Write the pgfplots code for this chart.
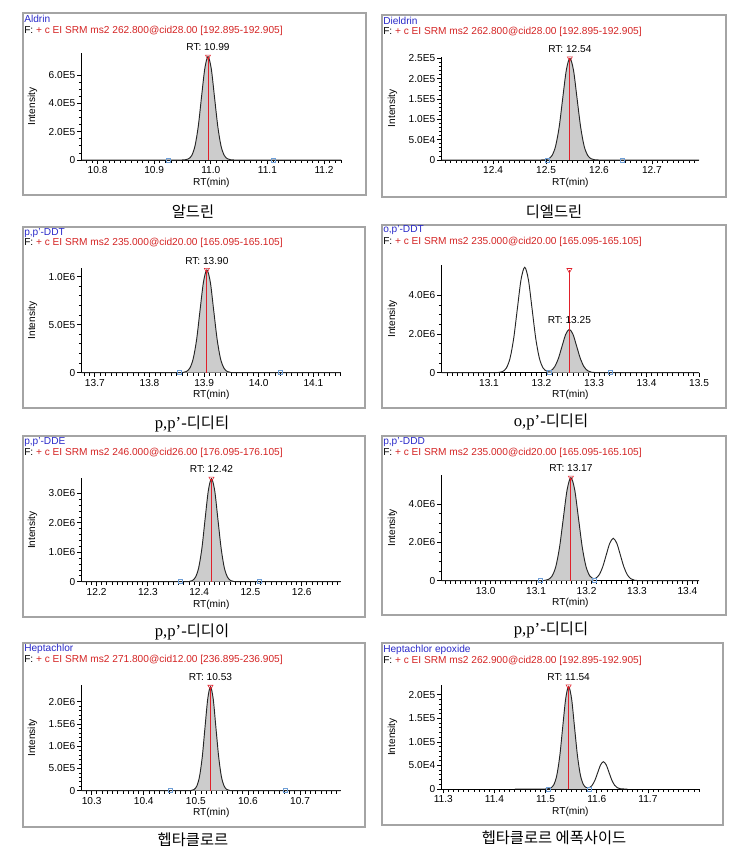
\documentclass[border=0pt]{standalone}
\usepackage{fontspec}
\setmainfont{Liberation Sans}
\newfontfamily\cjk{Noto Sans CJK KR}
\newfontfamily\serif{Liberation Serif}
\usepackage{pgfplots}
\usepackage{pgfplotstable}
\pgfplotsset{compat=1.18}
\definecolor{rtred}{HTML}{E0202A}
\definecolor{hdrblue}{HTML}{2828C8}
\definecolor{hdrred}{HTML}{D42424}
\definecolor{bndblue}{HTML}{6E9ED6}
\definecolor{framegray}{HTML}{A4A4A4}
\newcommand\sm{\fontsize{7.6}{9}\selectfont}
\newcommand\capt{\cjk\fontsize{11.5}{13}\selectfont}
\newcommand\capl{\serif\fontsize{12.5}{13}\selectfont}

\pgfplotsset{
  chrom/.style={
    scale only axis, anchor=south west,
    axis lines=left, axis line style={-, black, line width=0.75pt},
    ymin=0, clip=false, scaled ticks=false,
    tick style={black, line width=0.6pt},
    major tick length=3.2pt, minor tick length=2.2pt, tick align=outside,
    ticklabel style={font=\sm, inner sep=1.5pt},
    xlabel={RT(min)}, ylabel={Intensity},
    every axis x label/.style={at={(axis description cs:0.5,0)}, anchor=center, yshift=-17pt, font=\sm},
    every axis y label/.style={at={(axis description cs:0,0.5)}, xshift=-37pt, rotate=90, anchor=center, font=\sm},
  },
  fillpk/.style={draw=none, fill=gray!40, smooth},
  trace/.style={black!85, line width=0.7pt, smooth, mark=none},
  rtline/.style={rtred, line width=0.7pt, mark=none},
  apex/.style={only marks, mark=triangle, mark size=2.2pt, mark options={rotate=180, draw=rtred, fill=rtred!15}},
  bound/.style={only marks, mark=square, mark size=1.5pt, mark options={draw=bndblue, fill=bndblue!25}},
}

% Aldrin
\pgfplotstableread{
x y
10.772 0
10.94 0
10.949 220
10.9548 1600
10.9605 8100
10.9663 32000
10.972 98800
10.9778 237000
10.9835 443000
10.9893 644000
10.995 730000
11.0008 644000
11.0065 443000
11.0123 237000
11.018 98800
11.0238 32000
11.0295 8100
11.0353 1600
11.041 220
11.05 0
11.23 0
}\tAldrin
% Dieldrin
\pgfplotstableread{
x y
12.303 0
12.48 0
12.491 75
12.4978 550
12.5045 2780
12.5113 11000
12.518 33800
12.5248 81200
12.5315 152000
12.5383 221000
12.545 250000
12.5518 221000
12.5585 152000
12.5653 81200
12.572 33800
12.5788 11000
12.5855 2780
12.5923 550
12.599 75
12.61 0
12.789 0
}\tDieldrin
% p,p'-DDT
\pgfplotstableread{
x y
13.676 0
13.845 0
13.855 320
13.8613 2350
13.8675 11900
13.8738 47000
13.88 145000
13.8863 347000
13.8925 649000
13.8988 944000
13.905 1070000
13.9113 944000
13.9175 649000
13.9238 347000
13.93 145000
13.9363 47000
13.9425 11900
13.9488 2350
13.955 320
13.965 0
14.15 0
}\tppDDT
% o,p'-DDT
\pgfplotstableread{
x y
13.01 0
13.105 0
13.112 1640
13.119 12000
13.126 60500
13.133 239000
13.14 737000
13.147 1770000
13.154 3305000
13.161 4810000
13.168 5450000
13.175 4810000
13.182 3305000
13.189 1770000
13.196 738000
13.203 243000
13.21 80500
13.218 108000
13.225 304000
13.232 727000
13.239 1359000
13.246 1977000
13.253 2240000
13.26 1977000
13.267 1359000
13.274 727000
13.281 303000
13.288 98300
13.295 24900
13.302 4930
13.309 670
13.316 0
13.5 0
}\topDDT
% p,p'-DDE
\pgfplotstableread{
x y
12.171 0
12.364 0
12.374 1050
12.3803 7700
12.3865 38900
12.3928 154000
12.399 474000
12.4053 1136000
12.4115 2123000
12.4178 3089000
12.424 3500000
12.4303 3089000
12.4365 2123000
12.4428 1136000
12.449 474000
12.4553 154000
12.4615 38900
12.4678 7700
12.474 1050
12.484 0
12.676 0
}\tppDDE
% p,p'-DDD
\pgfplotstableread{
x y
12.913 0
13.1 0
13.109 1610
13.1165 11800
13.124 59700
13.1315 236000
13.139 728000
13.1465 1747000
13.154 3263000
13.1615 4748000
13.169 5380000
13.1765 4748000
13.184 3263000
13.1915 1747000
13.199 729000
13.2065 245000
13.214 105000
13.218 123000
13.225 304000
13.232 718000
13.239 1340000
13.246 1950000
13.253 2210000
13.26 1950000
13.267 1340000
13.274 718000
13.281 299000
13.288 97000
13.295 24500
13.302 4860
13.309 660
13.316 0
13.423 0
}\tppDDD
% Heptachlor
\pgfplotstableread{
x y
10.281 0
10.476 0
10.486 700
10.4913 5150
10.4965 26000
10.5018 103000
10.507 317000
10.5123 760000
10.5175 1419000
10.5228 2065000
10.528 2340000
10.5333 2065000
10.5385 1419000
10.5438 760000
10.549 317000
10.5543 103000
10.5595 26000
10.5648 5150
10.57 700
10.58 0
10.778 0
}\tHepta
% Heptachlor epoxide
\pgfplotstableread{
x y
11.44 0
11.49 0
11.499 65
11.5048 480
11.5105 2420
11.5163 9570
11.522 29500
11.5278 70800
11.5335 132000
11.5393 192000
11.545 218000
11.5508 192000
11.5565 132000
11.5623 70800
11.568 29600
11.5738 9670
11.5795 3050
11.5855 2960
11.591 7920
11.5965 18800
11.602 35200
11.6075 51200
11.613 58000
11.6185 51200
11.624 35200
11.6295 18800
11.635 7850
11.6405 2550
11.646 640
11.651 130
11.66 0
}\tHeptEp

\begin{document}
\begin{tikzpicture}
\begin{scope}[x=0.75pt,y=-0.75pt]
\path (0,0) rectangle (748,867);
\foreach \a/\b/\c/\d in {23/13/366/195, 382/15/726/197, 23/227/365/408, 382/225/726/408,
  23/436/365/617, 382/436/726/615, 23/643/365/827, 382/643/723/825}
  \draw[framegray, line width=1.2pt] (\a,\b) rectangle (\c,\d);
\tikzset{nm/.style={anchor=west, inner sep=0pt, text=hdrblue, font=\sm},
         ft/.style={anchor=west, inner sep=0pt, font=\sm}}
\node[nm] at (24,19) {Aldrin};
\node[ft] at (24,31) {F: \textcolor{hdrred}{+ c EI SRM ms2 262.800@cid28.00 [192.895-192.905]}};
\node[nm] at (383,20.7) {Dieldrin};
\node[ft] at (383,31.7) {F: \textcolor{hdrred}{+ c EI SRM ms2 262.800@cid28.00 [192.895-192.905]}};
\node[nm] at (24,232.7) {p,p'-DDT};
\node[ft] at (24,243.3) {F: \textcolor{hdrred}{+ c EI SRM ms2 235.000@cid20.00 [165.095-165.105]}};
\node[nm] at (383,230) {o,p'-DDT};
\node[ft] at (383,241.7) {F: \textcolor{hdrred}{+ c EI SRM ms2 235.000@cid20.00 [165.095-165.105]}};
\node[nm] at (24,442.3) {p,p'-DDE};
\node[ft] at (24,452.7) {F: \textcolor{hdrred}{+ c EI SRM ms2 246.000@cid26.00 [176.095-176.105]}};
\node[nm] at (383,441.7) {p,p'-DDD};
\node[ft] at (383,452.7) {F: \textcolor{hdrred}{+ c EI SRM ms2 235.000@cid20.00 [165.095-165.105]}};
\node[nm] at (24,649) {Heptachlor};
\node[ft] at (24,660) {F: \textcolor{hdrred}{+ c EI SRM ms2 271.800@cid12.00 [236.895-236.905]}};
\node[nm] at (383,650) {Heptachlor epoxide};
\node[ft] at (383,661) {F: \textcolor{hdrred}{+ c EI SRM ms2 262.900@cid28.00 [192.895-192.905]}};
% captions
\node[font=\capt] at (193,212) {알드린};
\node[font=\capt] at (554,212) {디엘드린};
\node at (192,424) {{\capl p,p’-}{\capt 디디티}};
\node at (551,422) {{\capl o,p’-}{\capt 디디티}};
\node at (192,632) {{\capl p,p’-}{\capt 디디이}};
\node at (551,630) {{\capl p,p’-}{\capt 디디디}};
\node[font=\capt] at (193,840) {헵타클로르};
\node[font=\capt] at (554,838) {헵타클로르 에폭사이드};
\end{scope}

% Aldrin
\begin{axis}[chrom, at={(61.3pt,-120pt)}, width=194.5pt, height=80pt,
  xmin=10.772, xmax=11.23, ymax=7.53e5,
  xtick={10.8,10.9,11.0,11.1,11.2}, xticklabels={10.8,10.9,11.0,11.1,11.2},
  minor xtick={10.78,10.79,...,11.23},
  ytick={0,2e5,4e5,6e5}, yticklabels={0,2.0E5,4.0E5,6.0E5}, minor y tick num=3]
\addplot[fillpk] table {\tAldrin} \closedcycle;
\addplot[trace] table {\tAldrin};
\addplot[rtline] coordinates {(10.995,0)(10.995,7.3e5)};
\addplot[apex] coordinates {(10.995,7.3e5)};
\addplot[bound] coordinates {(10.925,0)(11.11,0)};
\node[font=\sm, yshift=7pt] at (axis cs:10.995,7.3e5) {RT: 10.99};
\end{axis}

% Dieldrin
\begin{axis}[chrom, at={(331.3pt,-120pt)}, width=193pt, height=77.5pt,
  xmin=12.303, xmax=12.789, ymax=2.54e5,
  xtick={12.3,12.4,12.5,12.6,12.7}, xticklabels={12.3,12.4,12.5,12.6,12.7},
  minor xtick={12.31,12.32,...,12.785},
  ytick={0,5e4,1e5,1.5e5,2e5,2.5e5}, yticklabels={0,5.0E4,1.0E5,1.5E5,2.0E5,2.5E5}, minor y tick num=4]
\addplot[fillpk] table {\tDieldrin} \closedcycle;
\addplot[trace] table {\tDieldrin};
\addplot[rtline] coordinates {(12.545,0)(12.545,2.5e5)};
\addplot[apex] coordinates {(12.545,2.5e5)};
\addplot[bound] coordinates {(12.503,0)(12.643,0)};
\node[font=\sm, yshift=7pt] at (axis cs:12.545,2.5e5) {RT: 12.54};
\end{axis}

% p,p'-DDT
\begin{axis}[chrom, at={(61.3pt,-279.5pt)}, width=194.25pt, height=78.3pt,
  xmin=13.676, xmax=14.15, ymax=1.087e6,
  xtick={13.7,13.8,13.9,14.0,14.1}, xticklabels={13.7,13.8,13.9,14.0,14.1},
  minor xtick={13.68,13.69,...,14.145},
  ytick={0,5e5,1e6}, yticklabels={0,5.0E5,1.0E6}, minor y tick num=4]
\addplot[fillpk] table {\tppDDT} \closedcycle;
\addplot[trace] table {\tppDDT};
\addplot[rtline] coordinates {(13.905,0)(13.905,1.07e6)};
\addplot[apex] coordinates {(13.905,1.07e6)};
\addplot[bound] coordinates {(13.855,0)(14.04,0)};
\node[font=\sm, yshift=7pt] at (axis cs:13.905,1.07e6) {RT: 13.90};
\end{axis}

% o,p'-DDT
\begin{axis}[chrom, at={(331.3pt,-279.5pt)}, width=193pt, height=80.8pt,
  xmin=13.01, xmax=13.5, ymax=5.57e6,
  xtick={13.1,13.2,13.3,13.4,13.5}, xticklabels={13.1,13.2,13.3,13.4,13.5},
  minor xtick={13.02,13.03,...,13.495},
  ytick={0,2e6,4e6}, yticklabels={0,2.0E6,4.0E6}, minor y tick num=3]
\addplot[fillpk, restrict x to domain=13.209:13.303] table {\topDDT} \closedcycle;
\addplot[trace] table {\topDDT};
\addplot[rtline] coordinates {(13.253,0)(13.253,5.31e6)};
\addplot[apex] coordinates {(13.253,5.31e6)};
\addplot[bound] coordinates {(13.214,0)(13.33,0)};
\node[font=\sm, yshift=7pt] at (axis cs:13.253,2.24e6) {RT: 13.25};
\end{axis}

% p,p'-DDE
\begin{axis}[chrom, at={(61.3pt,-436.3pt)}, width=194.25pt, height=77.55pt,
  xmin=12.171, xmax=12.676, ymax=3.51e6,
  xtick={12.2,12.3,12.4,12.5,12.6}, xticklabels={12.2,12.3,12.4,12.5,12.6},
  minor xtick={12.18,12.19,...,12.675},
  ytick={0,1e6,2e6,3e6}, yticklabels={0,1.0E6,2.0E6,3.0E6}, minor y tick num=4]
\addplot[fillpk] table {\tppDDE} \closedcycle;
\addplot[trace] table {\tppDDE};
\addplot[rtline] coordinates {(12.424,0)(12.424,3.5e6)};
\addplot[apex] coordinates {(12.424,3.5e6)};
\addplot[bound] coordinates {(12.364,0)(12.517,0)};
\node[font=\sm, yshift=7pt] at (axis cs:12.424,3.5e6) {RT: 12.42};
\end{axis}

% p,p'-DDD
\begin{axis}[chrom, at={(331.3pt,-435.5pt)}, width=193pt, height=79.3pt,
  xmin=12.913, xmax=13.423, ymax=5.52e6,
  xtick={13.0,13.1,13.2,13.3,13.4}, xticklabels={13.0,13.1,13.2,13.3,13.4},
  minor xtick={12.92,12.93,...,13.42},
  ytick={0,2e6,4e6}, yticklabels={0,2.0E6,4.0E6}, minor y tick num=3]
\addplot[fillpk, restrict x to domain=13.108:13.2145] table {\tppDDD} \closedcycle;
\addplot[trace] table {\tppDDD};
\addplot[rtline] coordinates {(13.169,0)(13.169,5.38e6)};
\addplot[apex] coordinates {(13.169,5.38e6)};
\addplot[bound] coordinates {(13.109,0)(13.215,0)};
\node[font=\sm, yshift=7pt] at (axis cs:13.169,5.38e6) {RT: 13.17};
\end{axis}

% Heptachlor
\begin{axis}[chrom, at={(61.3pt,-593pt)}, width=194.25pt, height=79.3pt,
  xmin=10.281, xmax=10.778, ymax=2.38e6,
  xtick={10.3,10.4,10.5,10.6,10.7}, xticklabels={10.3,10.4,10.5,10.6,10.7},
  minor xtick={10.29,10.30,...,10.775},
  ytick={0,5e5,1e6,1.5e6,2e6}, yticklabels={0,5.0E5,1.0E6,1.5E6,2.0E6}, minor y tick num=4]
\addplot[fillpk] table {\tHepta} \closedcycle;
\addplot[trace] table {\tHepta};
\addplot[rtline] coordinates {(10.528,0)(10.528,2.34e6)};
\addplot[apex] coordinates {(10.528,2.34e6)};
\addplot[bound] coordinates {(10.45,0)(10.671,0)};
\node[font=\sm, yshift=7pt] at (axis cs:10.528,2.34e6) {RT: 10.53};
\end{axis}

% Heptachlor epoxide
\begin{axis}[chrom, at={(331.3pt,-591.75pt)}, width=193pt, height=78pt,
  xmin=11.297, xmax=11.8, ymax=2.21e5,
  xtick={11.3,11.4,11.5,11.6,11.7}, xticklabels={11.3,11.4,11.5,11.6,11.7},
  minor xtick={11.30,11.31,...,11.795},
  ytick={0,5e4,1e5,1.5e5,2e5}, yticklabels={0,5.0E4,1.0E5,1.5E5,2.0E5}, minor y tick num=4]
\addplot[fillpk, restrict x to domain=11.498:11.58] table {\tHeptEp} \closedcycle;
\addplot[trace] table {\tHeptEp};
\addplot[rtline] coordinates {(11.545,0)(11.545,2.18e5)};
\addplot[apex] coordinates {(11.545,2.18e5)};
\addplot[bound] coordinates {(11.505,0)(11.585,0)};
\node[font=\sm, yshift=7pt] at (axis cs:11.545,2.18e5) {RT: 11.54};
\end{axis}
\end{tikzpicture}
\end{document}
